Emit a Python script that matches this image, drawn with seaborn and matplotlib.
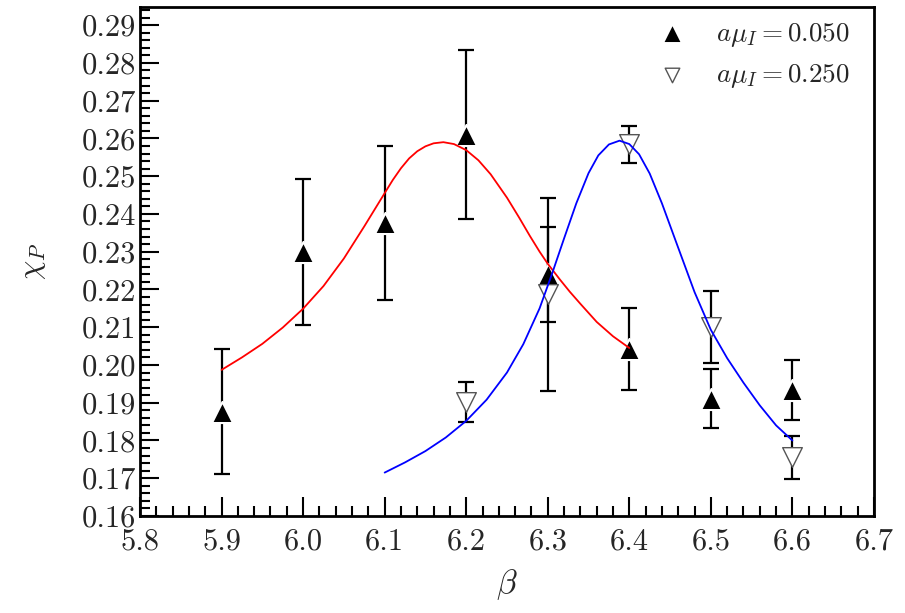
import numpy as np
import pandas as pd
import matplotlib
matplotlib.use("Agg")
import matplotlib.pyplot as plt
import seaborn as sns
from matplotlib.ticker import MultipleLocator, FormatStrFormatter

# ---- data ----
beta_lo = [5.9, 6.0, 6.1, 6.2, 6.3, 6.4, 6.5, 6.6]
chi_lo = [0.1876, 0.2299, 0.2376, 0.2610, 0.2240, 0.2043, 0.1911, 0.1934]
err_lo = [0.0165, 0.0193, 0.0205, 0.0224, 0.0125, 0.0109, 0.0078, 0.0079]

beta_hi = [6.2, 6.3, 6.4, 6.5, 6.6]
chi_hi = [0.1903, 0.2187, 0.2584, 0.2100, 0.1755]
err_hi = [0.0053, 0.0255, 0.0049, 0.0096, 0.0057]

fit_lo_x = [5.900, 5.925, 5.950, 5.975, 6.000, 6.025, 6.050, 6.075, 6.100, 6.110,
            6.120, 6.130, 6.140, 6.150, 6.160, 6.172, 6.185, 6.200, 6.215, 6.230,
            6.250, 6.265, 6.278, 6.290, 6.300, 6.315, 6.327, 6.340, 6.360, 6.380, 6.400]
fit_lo_y = [0.1987, 0.2020, 0.2056, 0.2099, 0.2149, 0.2209, 0.2282, 0.2367, 0.2455, 0.2490,
            0.2521, 0.2547, 0.2566, 0.2579, 0.2587, 0.2590, 0.2585, 0.2569, 0.2542, 0.2505,
            0.2443, 0.2390, 0.2342, 0.2300, 0.2268, 0.2226, 0.2194, 0.2162, 0.2114, 0.2076,
            0.2045]

fit_hi_x = [6.100, 6.125, 6.150, 6.175, 6.200, 6.225, 6.250, 6.270, 6.290, 6.305,
            6.320, 6.335, 6.350, 6.362, 6.375, 6.388, 6.400, 6.412, 6.425, 6.440,
            6.458, 6.480, 6.500, 6.520, 6.540, 6.560, 6.580, 6.600]
fit_hi_y = [0.1715, 0.1742, 0.1772, 0.1808, 0.1852, 0.1908, 0.1980, 0.2055, 0.2150, 0.2240,
            0.2335, 0.2428, 0.2508, 0.2555, 0.2584, 0.2594, 0.2585, 0.2558, 0.2507, 0.2428,
            0.2322, 0.2193, 0.2093, 0.2018, 0.1953, 0.1893, 0.1840, 0.1800]

labels = [r"$a\mu_I = 0.050$", r"$a\mu_I = 0.250$"]

sns.set_style("white")
plt.rcParams["font.family"] = "serif"
plt.rcParams["font.serif"] = ["cmr10", "DejaVu Serif"]
plt.rcParams["mathtext.fontset"] = "cm"
plt.rcParams["axes.formatter.use_mathtext"] = True
plt.rcParams["axes.unicode_minus"] = False

fig = plt.figure(figsize=(9.05, 6.13), dpi=100)
ax = fig.add_axes([0.1547, 0.1582, 0.811, 0.8304])

# error bars
ax.errorbar(beta_lo, chi_lo, yerr=err_lo, fmt="none", ecolor="black",
            elinewidth=1.6, capsize=6, capthick=1.6, zorder=2)
ax.errorbar(beta_hi, chi_hi, yerr=err_hi, fmt="none", ecolor="black",
            elinewidth=1.6, capsize=6, capthick=1.6, zorder=2)

# markers
df_lo = pd.DataFrame({"beta": beta_lo, "chi": chi_lo})
df_hi = pd.DataFrame({"beta": beta_hi, "chi": chi_hi})
sns.scatterplot(data=df_lo, x="beta", y="chi", marker="^", s=230, color="black",
                edgecolor="white", linewidth=1.5, ax=ax, zorder=3, label=labels[0])
sns.scatterplot(data=df_hi, x="beta", y="chi", marker="v", s=200, color="white",
                edgecolor="#555555", linewidth=1.0, ax=ax, zorder=3, label=labels[1])

# fit curves
sns.lineplot(x=fit_lo_x, y=fit_lo_y, color="red", linewidth=1.3, ax=ax, zorder=4,
             sort=False, legend=False)
sns.lineplot(x=fit_hi_x, y=fit_hi_y, color="blue", linewidth=1.3, ax=ax, zorder=4,
             sort=False, legend=False)

ax.set_xlim(5.8, 6.7)
ax.set_ylim(0.16, 0.2948)
ax.xaxis.set_major_locator(MultipleLocator(0.1))
ax.xaxis.set_minor_locator(MultipleLocator(0.02))
ax.yaxis.set_major_locator(MultipleLocator(0.01))
ax.yaxis.set_minor_locator(MultipleLocator(0.002))
ax.xaxis.set_major_formatter(FormatStrFormatter("%.1f"))
ax.yaxis.set_major_formatter(FormatStrFormatter("%.2f"))
ax.tick_params(which="both", direction="in", bottom=True, left=True, top=False,
               right=False, width=1.5, labelsize=22, color="black")
ax.tick_params(which="major", length=14)
ax.tick_params(which="minor", length=7)
ax.tick_params(axis="x", pad=9)
ax.tick_params(axis="y", pad=3)
for sp in ax.spines.values():
    sp.set_linewidth(2.0)
    sp.set_color("black")

ax.set_xlabel(r"$\beta$", fontsize=24, labelpad=8)
ax.set_ylabel(r"$\chi_P$", fontsize=22, labelpad=24)

leg = ax.legend(loc="upper right", bbox_to_anchor=(0.985, 1.0), frameon=False,
                fontsize=19.5, handletextpad=0.6, borderaxespad=0.1,
                labelspacing=0.5)
leg.legend_handles[0].set_sizes([190])
leg.legend_handles[1].set_sizes([110])

fig.savefig("out.png", dpi=100)
